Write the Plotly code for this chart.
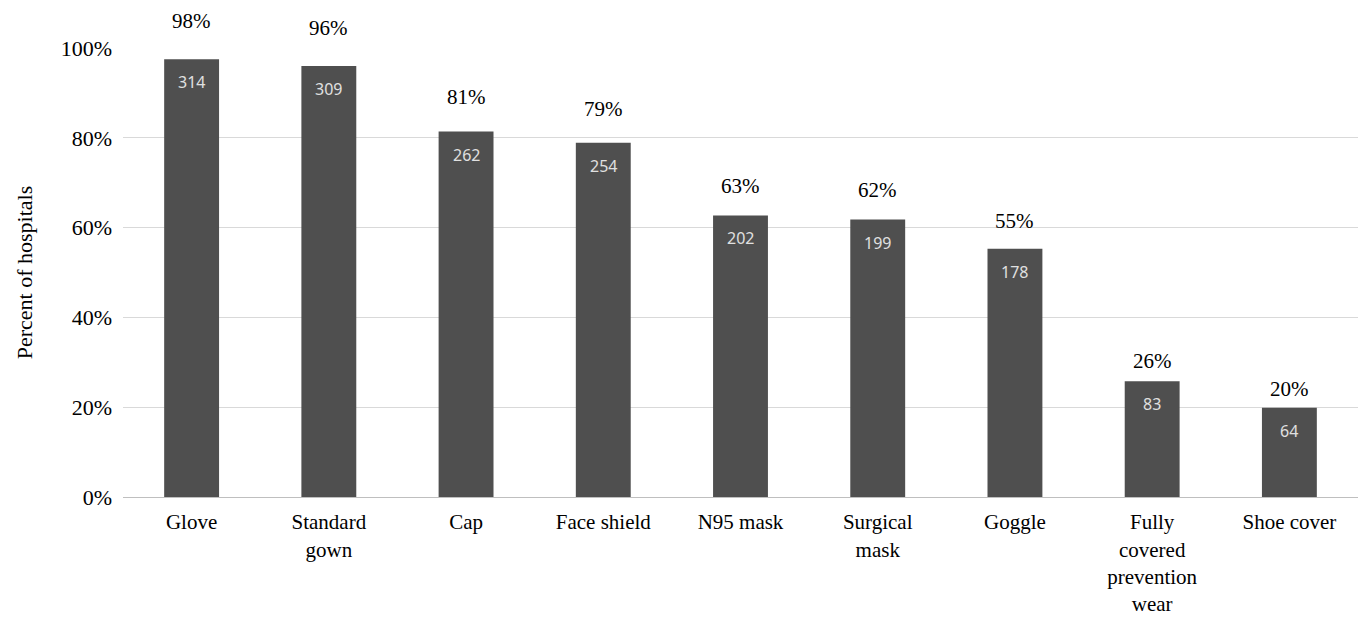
import plotly.graph_objects as go

categories = ["Glove", "Standard<br>gown", "Cap", "Face shield", "N95 mask",
              "Surgical<br>mask", "Goggle", "Fully<br>covered<br>prevention<br>wear", "Shoe cover"]
counts = [314, 309, 262, 254, 202, 199, 178, 83, 64]
percents = [0.975, 0.960, 0.814, 0.789, 0.627, 0.618, 0.553, 0.258, 0.199]
pct_labels = ["98%", "96%", "81%", "79%", "63%", "62%", "55%", "26%", "20%"]

SERIF = "Liberation Serif"

fig = go.Figure()
fig.add_trace(go.Bar(
    x=categories, y=percents,
    marker=dict(color="#4f4f4f", line=dict(width=0)),
    width=0.4,
    hoverinfo="skip",
))

for cat, p, c, lab in zip(categories, percents, counts, pct_labels):
    fig.add_annotation(x=cat, y=p, text=lab, showarrow=False,
                       yanchor="middle", yshift=14 + 25 * p,
                       font=dict(family=SERIF, size=21, color="#000000"))
    fig.add_annotation(x=cat, y=p, text=str(c), showarrow=False,
                       yanchor="middle", yshift=-23,
                       font=dict(family="Noto Sans", size=16, color="#e0e0e0"))

fig.update_layout(
    width=1358, height=621,
    margin=dict(l=123, r=0, t=48, b=124),
    plot_bgcolor="white", paper_bgcolor="white",
    showlegend=False,
    bargap=0.6,
    font=dict(family=SERIF, size=22, color="#000000"),
)
fig.update_yaxes(
    range=[0, 1], tickvals=[0, 0.2, 0.4, 0.6, 0.8, 1.0], tickformat=".0%",
    showgrid=True, gridcolor="#d9d9d9", gridwidth=1,
    zeroline=False, showline=False, ticks="",
    ticklabelstandoff=10, automargin=False,
    tickfont=dict(family=SERIF, size=22, color="#000000"),
    title=dict(text="Percent of hospitals", font=dict(family=SERIF, size=22, color="#000000"), standoff=21),
)
fig.update_xaxes(
    showline=True, linecolor="#bfbfbf", linewidth=1, ticks="",
    ticklabelstandoff=6, automargin=False,
    tickfont=dict(family=SERIF, size=21, color="#000000"),
    tickangle=0,
)

fig.write_html("out.html")
